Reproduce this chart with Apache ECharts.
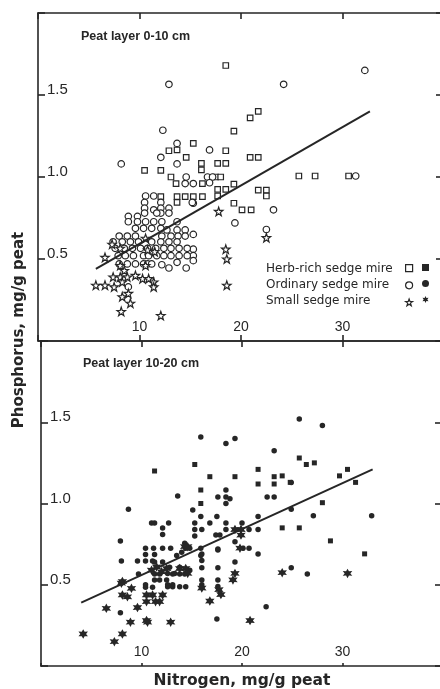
<!DOCTYPE html>
<html>
<head>
<meta charset="utf-8">
<script src="https://cdn.jsdelivr.net/npm/echarts@6/dist/echarts.min.js"></script>
<style>
  html, body { margin: 0; padding: 0; background: #fff; }
  #chart { width: 440px; height: 689px; }
</style>
</head>
<body>
<div id="chart"></div>
<script>
// Nitrogen (mg/g peat) vs phosphorus (mg/g peat), peat layer 0-10 cm
const herbTop = [
  [18.5,1.68],[21.7,1.40],[20.9,1.36],[19.3,1.28],[15.3,1.205],[12.9,1.16],[13.7,1.165],[18.5,1.16],
  [14.6,1.12],[20.9,1.12],[21.7,1.12],[16.1,1.083],[17.7,1.083],[18.5,1.083],[16.1,1.043],[10.5,1.04],
  [12.1,1.04],[17.5,1.0],[18.0,1.0],[13.1,1.0],[25.7,1.006],[27.3,1.006],[30.6,1.006],[16.2,0.96],
  [19.3,0.957],[13.6,0.96],[15.3,0.88],[16.2,0.88],[17.7,0.925],[18.5,0.925],[17.7,0.884],[21.7,0.92],
  [22.5,0.92],[22.5,0.884],[19.3,0.84],[20.1,0.80],[21.0,0.80],[12.1,0.88],[13.7,0.88],[14.5,0.88],
  [13.7,0.845]
];
const ordinaryTop = [
  [12.9,1.565],[24.2,1.565],[32.2,1.65],[12.3,1.285],[13.7,1.205],[16.9,1.165],[12.1,1.12],[16.7,1.0],
  [17.2,1.0],[31.3,1.006],[15.3,0.96],[16.9,0.965],[14.5,0.96],[15.3,0.84],[23.2,0.80],[19.4,0.72],
  [22.5,0.68],[15.3,0.65],[15.3,0.56],[15.3,0.52],[15.3,0.49],[8.2,1.08],[13.7,1.08],[14.6,1.0],
  [10.6,0.884],[11.4,0.884],[15.2,0.845],[10.5,0.845],[10.5,0.81],[10.5,0.78],[12.1,0.845],[12.1,0.81],
  [12.1,0.78],[12.9,0.81],[12.9,0.78],[11.4,0.80],[11.7,0.78],[8.9,0.76],[9.8,0.76],[8.9,0.727],
  [9.8,0.727],[10.6,0.727],[11.4,0.727],[12.2,0.727],[13.7,0.727],[9.6,0.687],[10.4,0.687],[11.2,0.687],
  [12.1,0.687],[12.7,0.677],[13.7,0.677],[14.5,0.677],[8.0,0.64],[8.8,0.64],[9.6,0.64],[12.2,0.64],
  [13.1,0.64],[13.8,0.64],[14.5,0.64],[7.4,0.605],[8.3,0.605],[9.1,0.605],[9.9,0.605],[11.2,0.605],
  [12.1,0.605],[12.9,0.605],[13.7,0.605],[7.6,0.565],[8.5,0.565],[9.3,0.565],[10.1,0.565],[10.8,0.565],
  [11.6,0.565],[12.4,0.565],[13.1,0.565],[13.9,0.565],[14.7,0.565],[7.9,0.52],[8.6,0.52],[9.4,0.52],
  [10.4,0.52],[10.9,0.52],[11.7,0.52],[12.4,0.52],[13.1,0.52],[13.9,0.52],[14.7,0.52],[8.0,0.47],
  [8.8,0.47],[9.6,0.47],[10.4,0.47],[10.8,0.47],[11.2,0.47],[12.2,0.465],[12.9,0.445],[13.7,0.48],
  [14.6,0.445],[8.9,0.33]
];
const smallTop = [
  [17.8,0.79],[22.5,0.63],[18.5,0.56],[18.6,0.50],[10.6,0.626],[7.3,0.59],[6.6,0.51],[10.8,0.555],
  [11.5,0.545],[8.1,0.565],[8.1,0.46],[8.5,0.43],[10.6,0.46],[7.4,0.39],[8.1,0.39],[8.8,0.39],
  [9.6,0.40],[10.3,0.38],[10.9,0.38],[11.4,0.36],[5.7,0.34],[6.6,0.34],[7.5,0.33],[8.3,0.36],
  [11.4,0.33],[18.6,0.34],[8.3,0.27],[8.9,0.29],[9.1,0.23],[8.2,0.18],[12.1,0.155]
];
// Peat layer 10-20 cm
const herbSub = [
  [15.3,1.24],[11.3,1.20],[25.7,1.28],[26.4,1.24],[27.2,1.25],[21.6,1.21],[16.8,1.165],[19.3,1.165],
  [23.2,1.165],[24.0,1.17],[21.6,1.12],[23.2,1.12],[24.8,1.13],[29.7,1.17],[30.5,1.21],[31.3,1.13],
  [28.0,1.005],[25.7,0.85],[24.0,0.85],[28.8,0.77],[32.2,0.69],[15.9,1.0],[15.9,1.083]
];
const ordinarySub = [
  [25.7,1.52],[28.0,1.48],[15.9,1.41],[18.4,1.37],[19.3,1.40],[23.2,1.325],[24.9,1.13],[24.9,0.965],
  [27.1,0.925],[32.9,0.925],[24.9,0.605],[26.5,0.566],[18.4,1.083],[17.6,1.04],[18.4,1.04],[18.8,1.03],
  [18.4,1.0],[22.5,1.04],[23.2,1.04],[15.1,0.96],[15.9,0.92],[17.5,0.92],[21.6,0.92],[15.3,0.88],
  [15.3,0.84],[15.3,0.80],[16.0,0.84],[16.8,0.88],[18.4,0.88],[18.4,0.84],[17.4,0.806],[17.8,0.806],
  [20.0,0.88],[20.7,0.84],[21.6,0.84],[19.3,0.765],[20.1,0.725],[20.7,0.725],[21.6,0.69],[19.3,0.64],
  [17.6,0.714],[17.6,0.605],[17.6,0.53],[17.6,0.49],[17.5,0.29],[22.4,0.365],[16.0,0.69],[16.0,0.65],
  [16.0,0.605],[16.0,0.53],[16.0,0.50],[13.6,1.046],[8.7,0.964],[11.0,0.88],[11.3,0.88],[12.7,0.88],
  [12.1,0.85],[12.1,0.81],[7.9,0.77],[10.4,0.725],[11.2,0.725],[12.1,0.725],[12.9,0.725],[14.3,0.755],
  [14.4,0.725],[14.8,0.725],[15.9,0.725],[15.9,0.68],[17.6,0.72],[8.0,0.646],[9.6,0.646],[10.4,0.646],
  [11.1,0.646],[9.7,0.566],[10.4,0.484],[11.1,0.484],[12.6,0.488],[13.1,0.488],[13.8,0.488],[14.4,0.488],
  [14.3,0.566],[14.8,0.59],[7.9,0.328],[11.3,0.64],[12.1,0.64],[11.3,0.566],[11.8,0.566],[11.3,0.53],
  [11.8,0.53],[12.5,0.53],[12.8,0.607],[13.1,0.566],[13.8,0.607],[13.8,0.566],[13.5,0.68],[14.0,0.70],
  [10.4,0.686],[11.3,0.686],[10.4,0.50],[12.6,0.57],[13.3,0.57],[12.6,0.50],[13.1,0.50]
];
const smallSub = [
  [30.5,0.57],[24.0,0.574],[19.3,0.84],[19.9,0.84],[19.9,0.806],[19.8,0.725],[19.3,0.57],[19.1,0.53],
  [17.7,0.47],[17.9,0.44],[16.8,0.40],[20.8,0.28],[16.0,0.48],[6.5,0.355],[9.6,0.36],[8.9,0.27],
  [10.5,0.28],[10.6,0.27],[12.9,0.27],[4.2,0.197],[7.3,0.15],[8.1,0.197],[8.1,0.437],[9.0,0.478],
  [8.6,0.426],[8.1,0.52],[10.5,0.437],[11.1,0.437],[11.4,0.396],[12.1,0.437],[10.5,0.396],[11.8,0.396],
  [11.0,0.59],[11.5,0.61],[12.0,0.58],[12.5,0.60],[13.8,0.60],[14.4,0.60],[14.6,0.57],[14.3,0.734],
  [14.6,0.734],[8.0,0.51]
];
// Regression lines (end points)
const fitTop = [[5.7,0.44],[32.7,1.40]];
const fitSub = [[4.0,0.39],[33.0,1.21]];

const groupNames = ['Herb-rich sedge mire', 'Ordinary sedge mire', 'Small sedge mire'];
const layerTitles = ['Peat layer 0-10 cm', 'Peat layer 10-20 cm'];
const xRange = [0, 40, 10];
const yRange = [0, 2, 0.5];

const INK = '#262626';
const STAR5 = 'path://M0,-10L2.35,-3.24L9.51,-3.09L3.8,1.24L5.88,8.09L0,4L-5.88,8.09L-3.8,1.24L-9.51,-3.09L-2.35,-3.24Z';
const STAR6 = 'path://M0,-10L2.6,-4.5L8.66,-5L5.2,0L8.66,5L2.6,4.5L0,10L-2.6,4.5L-8.66,5L-5.2,0L-8.66,-5L-2.6,-4.5Z';

const tickFont = { color: INK, fontFamily: 'Liberation Sans, Arial, sans-serif' };

function xAxisFor(grid, pos, withLabels) {
  return {
    type: 'value', gridIndex: grid, position: pos,
    min: xRange[0], max: xRange[1], interval: xRange[2],
    axisLine: { show: true, onZero: false, lineStyle: { color: INK, width: 1.6 } },
    axisTick: { show: true, inside: true, length: pos === 'top' ? 6 : (grid === 0 ? 6 : 3), lineStyle: { color: INK, width: 1.6 } },
    axisLabel: withLabels ? {
      show: true, inside: true, margin: 7, fontSize: 14, ...tickFont,
      formatter: v => (v === xRange[0] || v === xRange[1]) ? '' : String(v)
    } : { show: false },
    splitLine: { show: false }
  };
}
function yAxisFor(grid, pos) {
  const left = pos === 'left';
  return {
    type: 'value', gridIndex: grid, position: pos,
    min: yRange[0], max: yRange[1], interval: yRange[2],
    axisLine: { show: left, onZero: false, lineStyle: { color: INK, width: 1.6 } },
    axisTick: { show: true, inside: true, length: left ? 7 : 8, lineStyle: { color: INK, width: 1.6 } },
    axisLabel: left ? {
      show: true, inside: true, margin: 9, fontSize: 15, lineHeight: 10, verticalAlign: 'bottom', ...tickFont,
      formatter: v => (v === yRange[0] || v === yRange[1]) ? '' : v.toFixed(1)
    } : { show: false },
    splitLine: { show: false }
  };
}

function openSeries(name, data, symbol, size) {
  return {
    type: 'scatter', name, data, xAxisIndex: 0, yAxisIndex: 0,
    symbol, symbolSize: size,
    itemStyle: { color: '#fff', borderColor: INK, borderWidth: 1.2, opacity: 1 },
    emphasis: { disabled: true }, z: 3
  };
}
function solidSeries(name, data, symbol, size) {
  return {
    type: 'scatter', name, data, xAxisIndex: 2, yAxisIndex: 2,
    symbol, symbolSize: size,
    itemStyle: { color: INK, borderWidth: 0, opacity: 1 },
    emphasis: { disabled: true }, z: 3
  };
}
function fitSeries(data, xi, yi) {
  return {
    type: 'line', data, xAxisIndex: xi, yAxisIndex: yi,
    showSymbol: false, symbol: 'none', silent: true,
    lineStyle: { color: INK, width: 2 }, z: 4
  };
}

const subNames = groupNames.map(n => n + ' (10-20 cm)');
const legendBase = {
  orient: 'vertical', top: 264, padding: 0, itemWidth: 7, itemHeight: 7, itemGap: 9,
  formatter: () => '', textStyle: { fontSize: 6, lineHeight: 6 }, selectedMode: false
};

const chart = echarts.init(document.getElementById('chart'), null, { renderer: 'canvas' });
chart.setOption({
  animation: false,
  backgroundColor: '#fff',
  title: [
    { text: layerTitles[0], left: 81, top: 30, padding: 0,
      textStyle: { fontSize: 12.5, fontWeight: 'bold', color: INK, fontFamily: 'Liberation Sans, Arial, sans-serif' } },
    { text: layerTitles[1], left: 83, top: 357, padding: 0,
      textStyle: { fontSize: 12.5, fontWeight: 'bold', color: INK, fontFamily: 'Liberation Sans, Arial, sans-serif' } }
  ],
  grid: [
    { left: 38, top: 13, width: 406, height: 328, outerBoundsMode: 'none', containLabel: false },
    { left: 41, top: 341, width: 402, height: 325, outerBoundsMode: 'none', containLabel: false }
  ],
  xAxis: [
    xAxisFor(0, 'bottom', true),
    xAxisFor(0, 'top', false),
    Object.assign(xAxisFor(1, 'bottom', true), {
      name: 'Nitrogen, mg/g peat', nameLocation: 'middle', nameGap: 7,
      nameTextStyle: { fontSize: 15.5, fontWeight: 'bold', color: INK, fontFamily: 'DejaVu Sans, sans-serif', verticalAlign: 'top' }
    }),
    xAxisFor(1, 'top', false)
  ],
  yAxis: [
    yAxisFor(0, 'left'),
    yAxisFor(0, 'right'),
    yAxisFor(1, 'left'),
    yAxisFor(1, 'right')
  ],
  legend: [
    Object.assign({ data: groupNames, left: 405, itemStyle: { borderWidth: 1.2 } }, legendBase),
    Object.assign({ data: subNames, left: 422 }, legendBase)
  ],
  graphic: [
    { type: 'text', left: 266, top: 261, silent: true,
      style: { text: groupNames.join('\n'), font: '12px "DejaVu Sans", sans-serif', lineHeight: 16, fill: INK } },
    { type: 'text', x: 19, y: 330, rotation: Math.PI / 2, silent: true,
      style: { text: 'Phosphorus, mg/g peat', font: 'bold 15px "DejaVu Sans", sans-serif', fill: INK, align: 'center', verticalAlign: 'middle' } }
  ],
  series: [
    openSeries(groupNames[0], herbTop, 'rect', 5.5),
    openSeries(groupNames[1], ordinaryTop, 'circle', 6.5),
    openSeries(groupNames[2], smallTop, STAR5, 8.5),
    fitSeries(fitTop, 0, 0),
    solidSeries(subNames[0], herbSub, 'rect', 5),
    solidSeries(subNames[1], ordinarySub, 'circle', 5.5),
    solidSeries(subNames[2], smallSub, STAR6, 9.5),
    fitSeries(fitSub, 2, 2)
  ]
});
</script>
</body>
</html>
